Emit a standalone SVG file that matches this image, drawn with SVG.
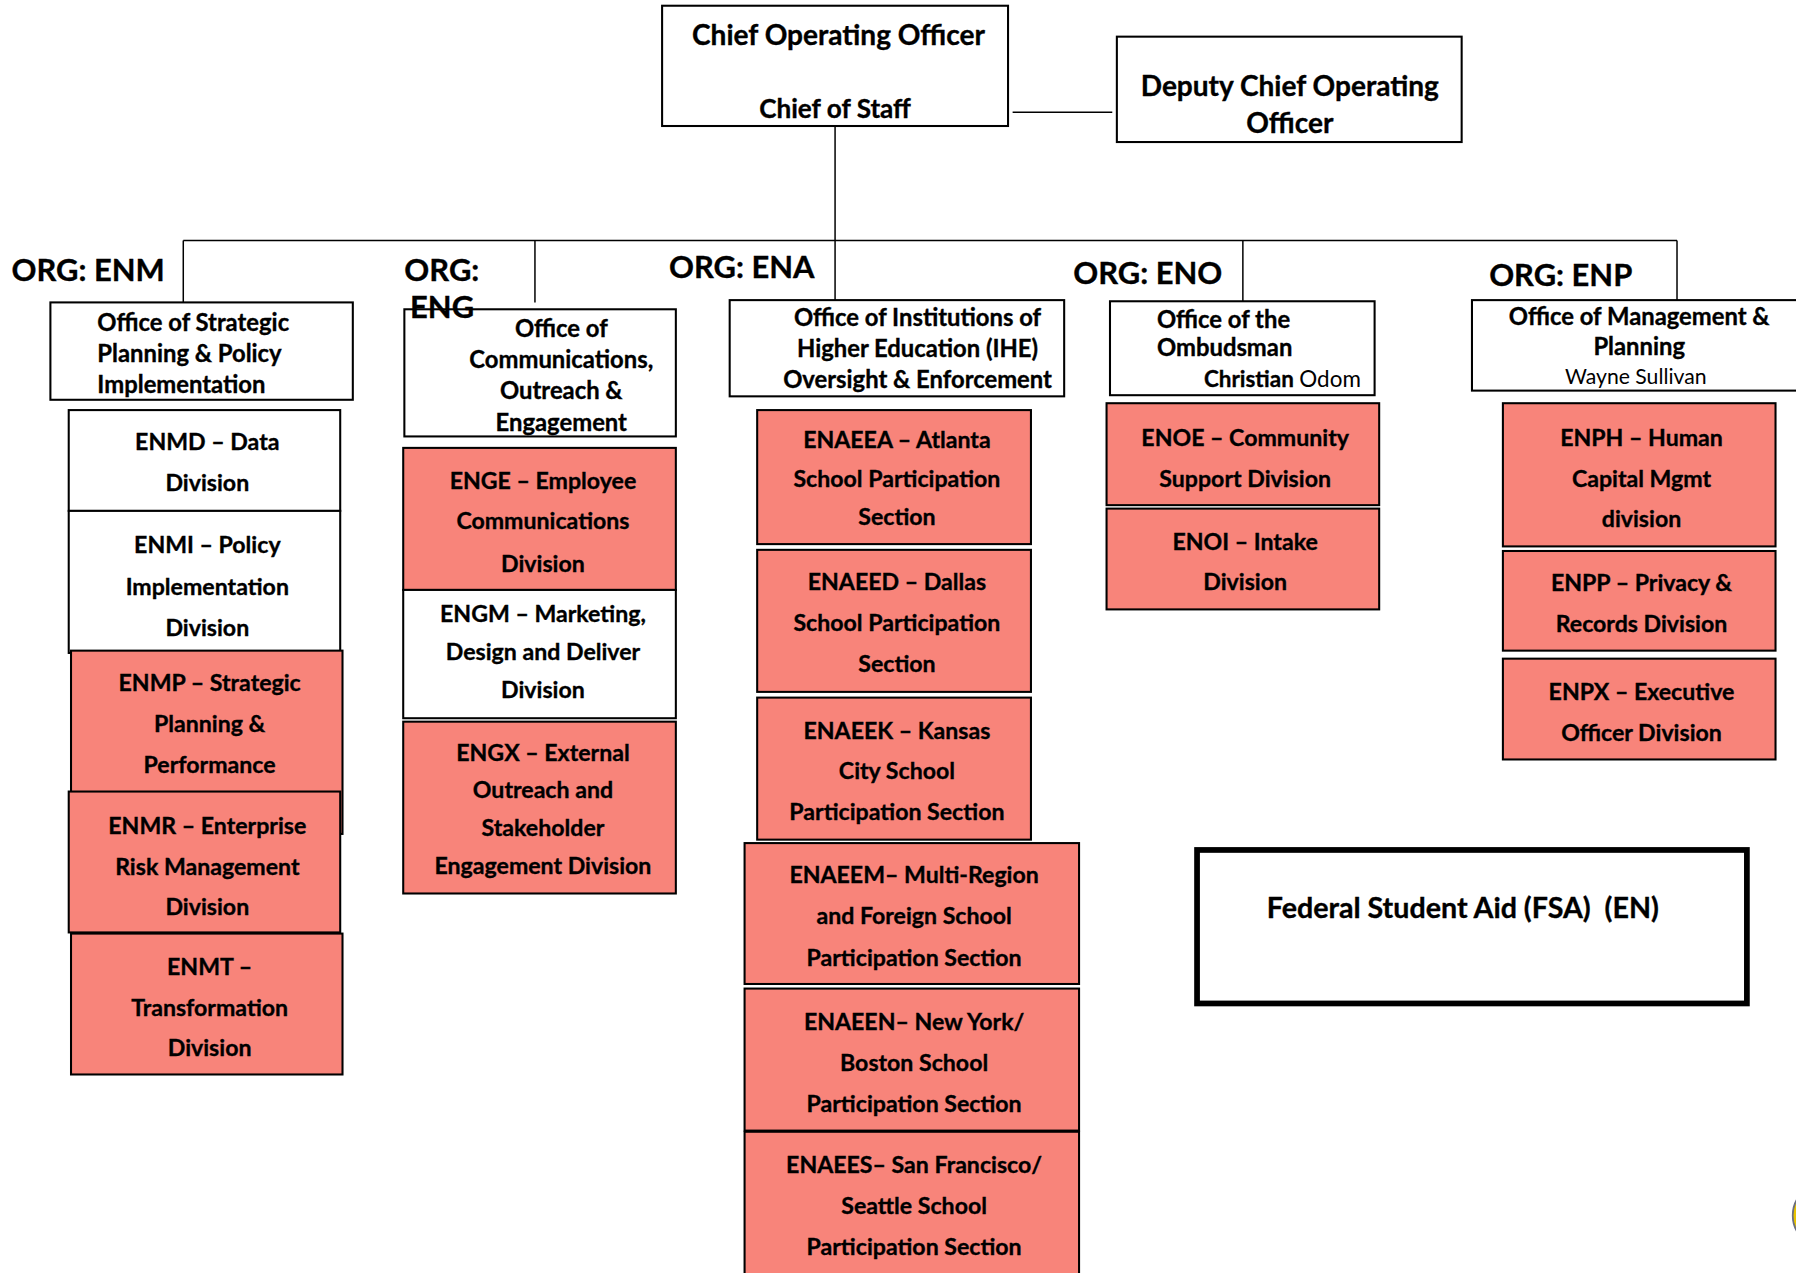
<svg xmlns="http://www.w3.org/2000/svg" width="1796" height="1273" viewBox="0 0 1796 1273">
<style>
.b{fill:#fff;stroke:#000;stroke-width:1.8}
.r{fill:#F8847A;stroke:#000;stroke-width:1.8}
.t{font-family:Lato,"Liberation Sans",sans-serif;font-weight:bold;font-size:20.2px;text-anchor:middle;fill:#000;stroke:#000;stroke-width:0.3}
.o{font-family:Lato,"Liberation Sans",sans-serif;font-weight:bold;font-size:20.8px;text-anchor:middle;fill:#000;stroke:#000;stroke-width:0.3}
.s{text-anchor:start}
.e{text-anchor:end}
.n{font-weight:normal;stroke:none}
.h{font-family:Lato,"Liberation Sans",sans-serif;font-weight:bold;font-size:24.5px;text-anchor:middle;fill:#000;stroke:#000;stroke-width:0.3}
.g{font-family:Lato,"Liberation Sans",sans-serif;font-weight:bold;font-size:27px;fill:#000;stroke:#000;stroke-width:0.3}
.c{stroke:#000;stroke-width:1.3;fill:none}
</style>
<rect width="1796" height="1273" fill="#fff"/>
<g transform="scale(1.1455)">
<g id="connectors">
<path class="c" d="M884 98H971M729 110V210M160 210H1464M160 210V264M467 210V264M729 210V262M1085 210V263M1464 210V263"/>
</g>
<g id="coo"><rect class="b" x="578" y="5" width="302" height="105"/>
<text class="h" x="732" y="39">Chief Operating Officer</text><text class="h" x="729" y="103" style="font-size:22.8px">Chief of Staff</text></g>
<g id="deputy"><rect class="b" x="975" y="32" width="301" height="92"/>
<text class="h" x="1126" y="84">Deputy Chief Operating</text><text class="h" x="1126" y="116">Officer</text></g>
<g id="enm-office"><rect class="b" x="44" y="264" width="264" height="85"/>
<text class="o s" x="85" y="289">Office of Strategic</text><text class="o s" x="85" y="316">Planning &amp; Policy</text><text class="o s" x="85" y="343">Implementation</text></g>
<g id="enmd"><rect class="b" x="60" y="358" width="237" height="88"/>
<text class="t" x="181" y="393">ENMD – Data</text><text class="t" x="181" y="429">Division</text></g>
<g id="enmi"><rect class="b" x="60" y="446" width="237" height="124"/>
<text class="t" x="181" y="483">ENMI – Policy</text><text class="t" x="181" y="519">Implementation</text><text class="t" x="181" y="555">Division</text></g>
<g id="enmp"><rect class="r" x="62" y="568" width="237" height="160"/>
<text class="t" x="183" y="603">ENMP – Strategic</text><text class="t" x="183" y="639">Planning &amp;</text><text class="t" x="183" y="675">Performance</text></g>
<g id="enmr"><rect class="r" x="60" y="691" width="237" height="123"/>
<text class="t" x="181" y="728">ENMR – Enterprise</text><text class="t" x="181" y="764">Risk Management</text><text class="t" x="181" y="799">Division</text></g>
<g id="enmt"><rect class="r" x="62" y="815" width="237" height="123"/>
<text class="t" x="183" y="851">ENMT –</text><text class="t" x="183" y="887">Transformation</text><text class="t" x="183" y="922">Division</text></g>

<g id="eng-office"><rect class="b" x="353" y="270" width="237" height="111"/>
<text class="o" x="490" y="294">Office of</text><text class="o" x="490" y="321">Communications,</text><text class="o" x="490" y="348">Outreach &amp;</text><text class="o" x="490" y="376">Engagement</text></g>
<g id="enge"><rect class="r" x="352" y="391" width="238" height="124"/>
<text class="t" x="474" y="427">ENGE – Employee</text><text class="t" x="474" y="462">Communications</text><text class="t" x="474" y="499">Division</text></g>
<g id="engm"><rect class="b" x="352" y="515" width="238" height="112"/>
<text class="t" x="474" y="543">ENGM – Marketing,</text><text class="t" x="474" y="576">Design and Deliver</text><text class="t" x="474" y="609">Division</text></g>
<g id="engx"><rect class="r" x="352" y="630" width="238" height="150"/>
<text class="t" x="474" y="664">ENGX – External</text><text class="t" x="474" y="697">Outreach and</text><text class="t" x="474" y="730">Stakeholder</text><text class="t" x="474" y="763">Engagement Division</text></g>

<g id="ena-office"><rect class="b" x="637" y="262" width="292" height="84"/>
<text class="o" x="801" y="285">Office of Institutions of</text><text class="o" x="801" y="312">Higher Education (IHE)</text><text class="o" x="801" y="339">Oversight &amp; Enforcement</text></g>
<g id="enaeea"><rect class="r" x="661" y="358" width="239" height="117"/>
<text class="t" x="783" y="391">ENAEEA – Atlanta</text><text class="t" x="783" y="425">School Participation</text><text class="t" x="783" y="458">Section</text></g>
<g id="enaeed"><rect class="r" x="661" y="480" width="239" height="124"/>
<text class="t" x="783" y="515">ENAEED – Dallas</text><text class="t" x="783" y="551">School Participation</text><text class="t" x="783" y="587">Section</text></g>
<g id="enaeek"><rect class="r" x="661" y="609" width="239" height="124"/>
<text class="t" x="783" y="645">ENAEEK – Kansas</text><text class="t" x="783" y="680">City School</text><text class="t" x="783" y="716">Participation Section</text></g>
<g id="enaeem"><rect class="r" x="650" y="736" width="292" height="123"/>
<text class="t" x="798" y="771">ENAEEM– Multi-Region</text><text class="t" x="798" y="807">and Foreign School</text><text class="t" x="798" y="843">Participation Section</text></g>
<g id="enaeen"><rect class="r" x="650" y="863" width="292" height="124"/>
<text class="t" x="798" y="899">ENAEEN– New York/</text><text class="t" x="798" y="935">Boston School</text><text class="t" x="798" y="971">Participation Section</text></g>
<g id="enaees"><rect class="r" x="650" y="988" width="292" height="130"/>
<text class="t" x="798" y="1024">ENAEES– San Francisco/</text><text class="t" x="798" y="1060">Seattle School</text><text class="t" x="798" y="1096">Participation Section</text></g>

<g id="eno-office"><rect class="b" x="969" y="263" width="231" height="82"/>
<text class="o s" x="1010" y="286">Office of the</text><text class="o s" x="1010" y="311">Ombudsman</text><text class="o e" x="1188" y="338" style="font-size:19.6px">Christian <tspan class="n">Odom</tspan></text></g>
<g id="enoe"><rect class="r" x="966" y="352" width="238" height="89"/>
<text class="t" x="1087" y="389">ENOE – Community</text><text class="t" x="1087" y="425">Support Division</text></g>
<g id="enoi"><rect class="r" x="966" y="444" width="238" height="88"/>
<text class="t" x="1087" y="480">ENOI – Intake</text><text class="t" x="1087" y="515">Division</text></g>

<g id="enp-office"><rect class="b" x="1285" y="262" width="300" height="79"/>
<text class="o" x="1431" y="284">Office of Management &amp;</text><text class="o" x="1431" y="310">Planning</text><text class="o n" x="1428" y="335" style="font-size:18.5px">Wayne Sullivan</text></g>
<g id="enph"><rect class="r" x="1312" y="352" width="238" height="125"/>
<text class="t" x="1433" y="389">ENPH – Human</text><text class="t" x="1433" y="425">Capital Mgmt</text><text class="t" x="1433" y="460">division</text></g>
<g id="enpp"><rect class="r" x="1312" y="481" width="238" height="87"/>
<text class="t" x="1433" y="516">ENPP – Privacy &amp;</text><text class="t" x="1433" y="552">Records Division</text></g>
<g id="enpx"><rect class="r" x="1312" y="575" width="238" height="88"/>
<text class="t" x="1433" y="611">ENPX – Executive</text><text class="t" x="1433" y="647">Officer Division</text></g>

<g id="fsa"><rect x="1045" y="742" width="480" height="134" fill="#fff" stroke="#000" stroke-width="5"/>
<text class="h" x="1277" y="801" style="font-size:25px">Federal Student Aid (FSA)&#160; (EN)</text></g>
<g id="labels">
<text class="g" x="10" y="245">ORG: ENM</text>
<text class="g" x="353" y="245">ORG:</text>
<text class="g" x="358" y="278">ENG</text>
<text class="g" x="584" y="243">ORG: ENA</text>
<text class="g" x="937" y="248">ORG: ENO</text>
<text class="g" x="1300" y="250">ORG: ENP</text>
</g>
<ellipse cx="1596" cy="1061" rx="31" ry="29" fill="#E8C300" stroke="#6B6F80" stroke-width="1.5"/>
</g>
</svg>
